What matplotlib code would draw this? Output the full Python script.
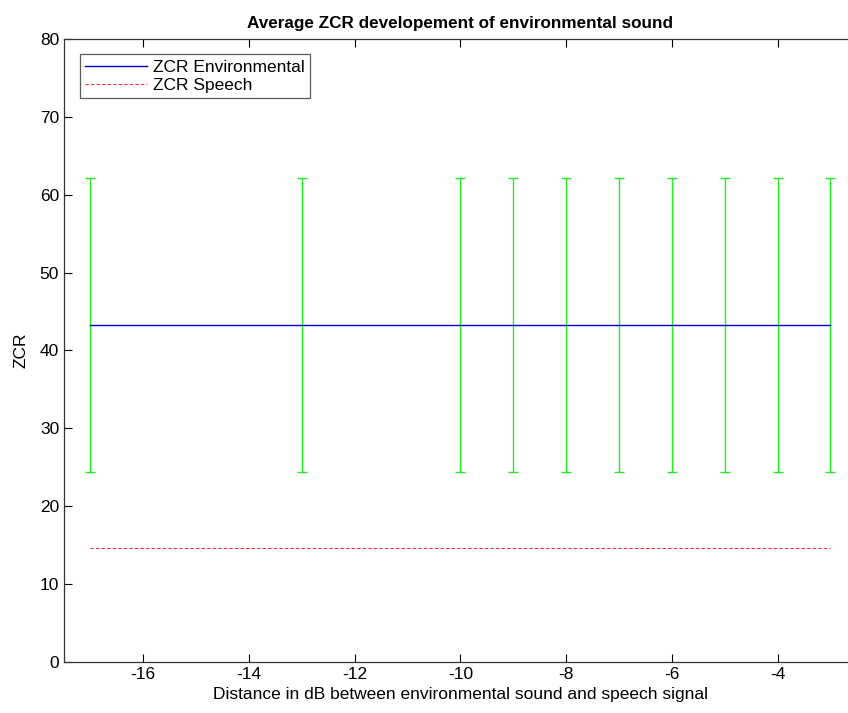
import matplotlib.pyplot as plt

# data
distance_db = [-17, -13, -10, -9, -8, -7, -6, -5, -4, -3]
zcr_env = [43.3, 43.3, 43.3, 43.3, 43.3, 43.3, 43.3, 43.3, 43.3, 43.3]
zcr_env_err = [18.9, 18.9, 18.9, 18.9, 18.9, 18.9, 18.9, 18.9, 18.9, 18.9]
zcr_speech = [14.7, 14.7, 14.7, 14.7, 14.7, 14.7, 14.7, 14.7, 14.7, 14.7]

plt.rcParams['font.family'] = ['Liberation Sans', 'DejaVu Sans']
plt.rcParams['axes.unicode_minus'] = False

fig = plt.figure(figsize=(8.48, 7.13), dpi=100)
ax = fig.add_axes([0.0755, 0.0715, 0.935, 0.874])

ax.errorbar(distance_db, zcr_env, yerr=zcr_env_err, fmt='none', ecolor='#22ee22',
            elinewidth=1.0, capsize=3.8, capthick=1.0)
ax.plot(distance_db, zcr_env, color='#0000cc', linewidth=1.0, label='ZCR Environmental')
ax.plot(distance_db, zcr_speech, color='#ee3333', linestyle='--', dashes=(3, 2),
        linewidth=0.8, label='ZCR Speech')

ax.set_xlim(-17.5, -2.5)
ax.set_ylim(0, 80)
ax.set_xticks([-16, -14, -12, -10, -8, -6, -4])
ax.set_yticks(range(0, 81, 10))
ax.tick_params(direction='in', top=True, right=True, length=6, width=0.8,
               labelsize=12.5, colors='black')
for s in ax.spines.values():
    s.set_linewidth(0.9)
    s.set_color('#333333')

ax.set_title('Average ZCR developement of environmental sound', fontsize=12.3,
             fontweight='bold', pad=8)
ax.set_xlabel('Distance in dB between environmental sound and speech signal', fontsize=12.5, labelpad=4)
ax.set_ylabel('ZCR', fontsize=12.5, labelpad=8)

leg = ax.legend(loc='upper left', fontsize=12.5, frameon=True, fancybox=False,
                edgecolor='#333333', handlelength=3.6, borderpad=0.3,
                labelspacing=0.15, handletextpad=0.3, borderaxespad=0.9)
leg.get_frame().set_linewidth(0.9)

fig.savefig('out.png', dpi=100)
